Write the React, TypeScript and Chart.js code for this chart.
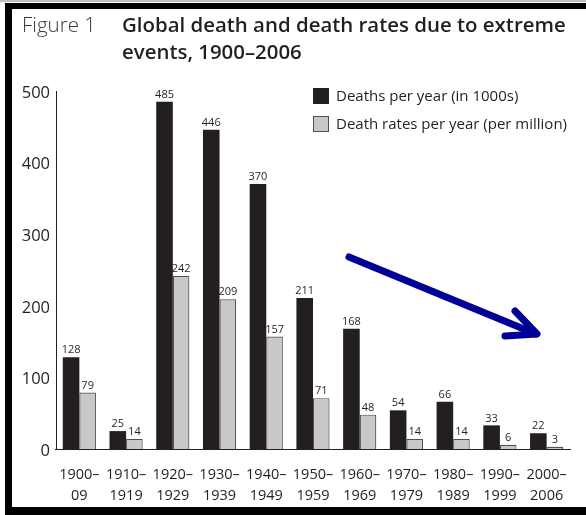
import React, { useEffect, useRef } from "react";
import { Chart, registerables } from "chart.js";

Chart.register(...registerables);

const categories: string[][] = [
  ["1900–", "09"],
  ["1910–", "1919"],
  ["1920–", "1929"],
  ["1930–", "1939"],
  ["1940–", "1949"],
  ["1950–", "1959"],
  ["1960–", "1969"],
  ["1970–", "1979"],
  ["1980–", "1989"],
  ["1990–", "1999"],
  ["2000–", "2006"],
];
const deaths = [128, 25, 485, 446, 370, 211, 168, 54, 66, 33, 22];
const rates = [79, 14, 242, 209, 157, 71, 48, 14, 14, 6, 3];
const seriesNames = ["Deaths per year (in 1000s)", "Death rates per year (per million)"];
const figureLabel = "Figure 1";
const titleLines = ["Global death and death rates due to extreme", "events, 1900–2006"];

const FONT = "'Open Sans', 'Noto Sans', sans-serif";
const INK = "#231f20";
const GREY = "#c8c8c8";
const GREY_BORDER = "#505050";

const decorations = {
  id: "decorations",
  afterDatasetsDraw(chart: any) {
    const ctx = chart.ctx;
    ctx.save();
    ctx.font = `11px ${FONT}`;
    ctx.fillStyle = INK;
    ctx.textAlign = "center";
    ctx.textBaseline = "bottom";
    chart.data.datasets.forEach((ds: any, di: number) => {
      const meta = chart.getDatasetMeta(di);
      meta.data.forEach((el: any, i: number) => {
        ctx.fillText(String(ds.data[i]), el.x, el.y - 1.5);
      });
    });
    ctx.restore();
  },
  afterDraw(chart: any) {
    const ctx = chart.ctx;
    const area = chart.chartArea;
    ctx.save();
    // x axis line
    ctx.strokeStyle = INK;
    ctx.lineWidth = 1.2;
    ctx.beginPath();
    ctx.moveTo(area.left - 1, area.bottom + 0.5);
    ctx.lineTo(571, area.bottom + 0.5);
    ctx.stroke();

    // frame
    ctx.fillStyle = "#c0c0c0";
    ctx.fillRect(0, 0, 586, 2);
    ctx.fillStyle = "#000";
    ctx.fillRect(5, 3, 581, 6);
    ctx.fillRect(5, 3, 7, 512);
    ctx.fillRect(5, 507, 581, 8);

    // figure label
    ctx.textBaseline = "alphabetic";
    ctx.textAlign = "left";
    ctx.fillStyle = "#3a3a3a";
    ctx.font = `300 20.5px ${FONT}`;
    ctx.fillText(figureLabel, 22, 32);

    // title
    ctx.fillStyle = INK;
    let size = 20;
    ctx.font = `600 ${size}px ${FONT}`;
    const w = ctx.measureText(titleLines[0]).width;
    size = (size * 444) / w;
    ctx.font = `600 ${size}px ${FONT}`;
    ctx.fillText(titleLines[0], 122, 32);
    ctx.fillText(titleLines[1], 122, 59);

    // legend
    const rows = [
      { y: 96, fill: INK, stroke: INK },
      { y: 124, fill: GREY, stroke: GREY_BORDER },
    ];
    ctx.font = `15px ${FONT}`;
    ctx.textBaseline = "middle";
    rows.forEach((r, i) => {
      ctx.fillStyle = r.fill;
      ctx.fillRect(313, r.y - 8, 16, 16);
      ctx.strokeStyle = r.stroke;
      ctx.lineWidth = 1;
      ctx.strokeRect(313.5, r.y - 7.5, 15, 15);
      ctx.fillStyle = INK;
      ctx.fillText(seriesNames[i], 336, r.y + 1);
    });

    // arrow
    ctx.strokeStyle = "#000099";
    ctx.lineWidth = 7;
    ctx.lineCap = "round";
    ctx.lineJoin = "round";
    ctx.beginPath();
    ctx.moveTo(349, 257);
    ctx.lineTo(536, 334);
    ctx.stroke();
    ctx.beginPath();
    ctx.moveTo(515, 311);
    ctx.lineTo(537, 334);
    ctx.lineTo(505, 336);
    ctx.stroke();
    ctx.restore();
  },
};

export default function App() {
  const ref = useRef<HTMLCanvasElement | null>(null);
  useEffect(() => {
    if (!ref.current) return;
    const chart = new Chart(ref.current, {
      type: "bar",
      data: {
        labels: categories,
        datasets: [
          {
            label: seriesNames[0],
            data: deaths,
            backgroundColor: INK,
            borderColor: INK,
            borderWidth: 0,
            categoryPercentage: 0.71,
            barPercentage: 1,
          },
          {
            label: seriesNames[1],
            data: rates,
            backgroundColor: GREY,
            borderColor: GREY_BORDER,
            borderWidth: 1.2,
            categoryPercentage: 0.71,
            barPercentage: 1,
          },
        ],
      },
      options: {
        animation: false,
        responsive: false,
        devicePixelRatio: 1,
        layout: { padding: { left: 0, right: 16, top: 91, bottom: 0 } },
        plugins: {
          legend: { display: false },
          title: { display: false },
          tooltip: { enabled: false },
        },
        scales: {
          x: {
            grid: { display: false, drawTicks: false },
            border: { display: false },
            ticks: {
              color: INK,
              font: { family: FONT, size: 14.5, lineHeight: 1.4 },
              padding: 16,
              maxRotation: 0,
              autoSkip: false,
            },
            afterFit(scale: any) {
              scale.height = 66;
            },
          },
          y: {
            min: 0,
            max: 500,
            grid: { display: false, drawTicks: false },
            border: { display: true, color: INK, width: 1 },
            ticks: {
              stepSize: 100,
              color: INK,
              font: { family: FONT, size: 16.5 },
              padding: 6,
              labelOffset: 2,
            },
            afterFit(scale: any) {
              scale.width = 56;
            },
          },
        },
      },
      plugins: [decorations],
    });
    return () => chart.destroy();
  }, []);
  return (
    <div style={{ position: "absolute", left: 0, top: 0, width: 586, height: 515, background: "#fff" }}>
      <canvas ref={ref} width={586} height={515} style={{ width: 586, height: 515 }} />
    </div>
  );
}
